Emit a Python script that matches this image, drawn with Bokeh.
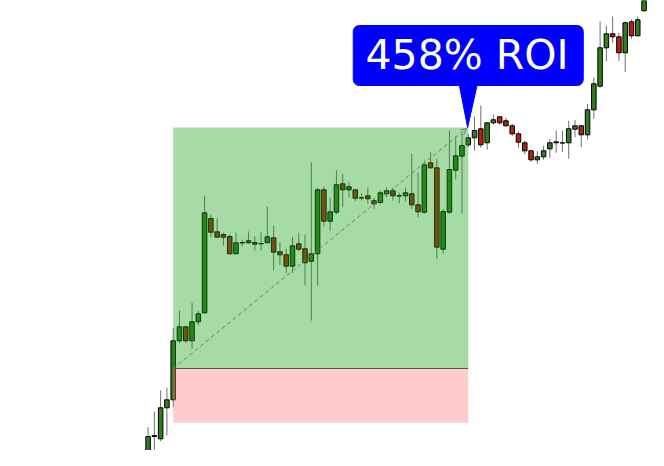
from bokeh.plotting import figure
from bokeh.models import Arrow, OpenHead
from bokeh.core.properties import value
from bokeh.embed import file_html
from bokeh.resources import INLINE

# ---- candle data (index, OHLC) ----
opens = [30, 38.3, 64, 61.7, 92.7, 100.7, 159.7, 173.7, 159.7, 178.7,
         187.7, 282, 268.7, 266, 264, 246.7, 257.5, 259.7, 258, 256.7,
         257.7, 262.7, 248.7, 245.7, 234.3, 256.7, 251.7, 239.3, 246.7, 310.7,
         279.3, 288.3, 316.7, 310.7, 310.7, 302.5, 304.7, 299.7, 298, 306.7,
         309.7, 304.5, 304.7, 306.7, 295.7, 288.3, 337.7, 332.7, 251.3, 288.3,
         330.3, 344.3, 355.7, 362.7, 371.7, 357.7, 377.7, 383.7, 379.7, 374.7,
         366.7, 357.7, 349.7, 340.7, 343.7, 351.7, 357.7, 357.5, 357.7, 371.3,
         374.7, 365.7, 390.7, 414.3, 452.7, 466.7, 463.7, 447.7, 478.7, 464.7,
         489.7, 505, 508, 470]
highs = [47, 73.3, 89, 110, 112.7, 172.7, 190, 174, 197.7, 190,
         305, 286, 282, 268, 266, 268, 261, 269, 264, 268,
         294, 275, 258, 251.7, 263.7, 267.7, 265.7, 338, 312.7, 314,
         303, 330, 326.7, 318.7, 311, 307.3, 313, 302.7, 310, 313,
         313, 307.7, 313, 346.7, 328, 340, 348.3, 341.7, 291.7, 370,
         364.3, 367, 366.7, 384, 395, 378, 386, 384, 382.7, 376.7,
         368.7, 360, 350.7, 349.7, 354.7, 361.7, 369.7, 369.7, 379.7, 380.7,
         375, 396.7, 423, 479, 475, 484, 467.7, 479.3, 481, 484,
         510, 520, 512, 500]
lows = [25, 38, 50, 59.3, 65, 93.3, 157.3, 157.7, 151.7, 175,
        187, 263.3, 263, 255, 246, 246.5, 254, 257, 250, 250,
        257.5, 230, 235.3, 227.3, 227.3, 249.3, 215.3, 180, 215, 274,
        269.3, 286.3, 293.3, 303.3, 299.3, 300, 296.7, 291.7, 296, 303.3,
        300, 297, 299.3, 291.3, 283.3, 286.7, 331.7, 241.7, 246.7, 286.7,
        321, 287, 353.3, 350, 352.7, 350.7, 375.7, 375.7, 373.7, 364.3,
        352.7, 346.7, 338.7, 336.7, 340.7, 342.7, 347.7, 348.7, 341.7, 363.3,
        353.3, 361, 381.7, 412.7, 439.3, 457.7, 439.3, 428.3, 461.7, 464.7,
        489, 502, 468, 467.7]
closes = [39, 64, 65, 92.7, 100.7, 159.7, 173.7, 159.7, 178.7, 186.7,
          287.7, 268.3, 263.3, 263.3, 246.7, 257.7, 258, 257.7, 256.3, 257,
          263.7, 248.3, 245.7, 234.3, 254.7, 251.3, 237.7, 246.7, 310.7, 279.3,
          288.7, 315.7, 310.7, 313.7, 302.3, 302.7, 301.7, 296.7, 307.7, 309.7,
          304.7, 304.7, 307.7, 295.7, 288.7, 335.7, 332.7, 253.3, 289, 331,
          344.7, 355, 362.7, 370, 355.7, 377.7, 380.7, 377.7, 374.7, 366.7,
          358.3, 349.7, 340.7, 343.7, 349.7, 357.7, 358.7, 357.7, 371.7, 374.7,
          365.7, 390.7, 416.7, 452.7, 466.7, 463.7, 447.7, 477.7, 464.7, 480.7,
          505, 512, 469.7, 490]

# ---- trade ----
entry_index = 5
exit_index = 52
entry_price = 132.0
target_price = 373.0
stop_price = 77.7
roi_label = "458% ROI"

W, H = 648, 450
X0, X1 = -22.51, 80.71
Y0, Y1 = 50, 500
px_x = W / (X1 - X0)
px_y = H / (Y1 - Y0)

idx = list(range(len(opens)))
UP, DOWN = "#2f7d1c", "#b3200c"
colors = [UP if c >= o else DOWN for o, c in zip(opens, closes)]
tops = [max(o, c) for o, c in zip(opens, closes)]
bottoms = [min(o, c) for o, c in zip(opens, closes)]

p = figure(width=W, height=H, x_range=(X0, X1), y_range=(Y0, Y1),
           output_backend="svg", toolbar_location=None, min_border=0,
           x_axis_location=None, y_axis_location=None,
           background_fill_color="white", border_fill_color="white")
p.outline_line_color = None
p.grid.visible = False

p.segment(x0=idx, y0=lows, x1=idx, y1=highs, line_color="#6e6e6e", line_width=1)
p.vbar(x=idx, width=0.72, top=tops, bottom=bottoms, fill_color=colors,
       line_color="black", line_width=1)

# position boxes (overlay)
p.quad(left=[entry_index], right=[exit_index], bottom=[entry_price], top=[target_price],
       fill_color="#14a014", fill_alpha=0.38, line_color=None)
p.quad(left=[entry_index], right=[exit_index], bottom=[stop_price], top=[entry_price],
       fill_color="#ff7979", fill_alpha=0.38, line_color=None)
p.segment(x0=[entry_index], y0=[entry_price], x1=[exit_index], y1=[entry_price],
          line_color="#555555", line_width=1)

p.add_layout(Arrow(x_start=entry_index, y_start=entry_price,
                   x_end=exit_index - 0.3, y_end=target_price - 1,
                   line_color="#777777", line_width=1, line_dash="4 3",
                   end=OpenHead(size=6, line_color="#777777", line_width=1)))

# callout
half_w = 115 / px_x
p.quad(left=[exit_index - half_w], right=[exit_index + half_w],
       bottom=[target_price + 42 / px_y], top=[target_price + 102 / px_y],
       fill_color="#0000ff", line_color="#0000ff", border_radius=6)
p.patch(x=[exit_index - 9 / px_x, exit_index + 9 / px_x, exit_index - 0.1],
        y=[target_price + 43 / px_y, target_price + 43 / px_y, target_price],
        fill_color="#0000ff", line_color="#0000ff")
p.text(x=[exit_index - 0.2], y=[target_price + 73 / px_y], text=[roi_label],
       text_font=value("DejaVu Sans"), text_font_size=value("41px"),
       text_color="white", text_align="center", text_baseline="alphabetic")

open("out.html", "w").write(file_html(p, INLINE))
